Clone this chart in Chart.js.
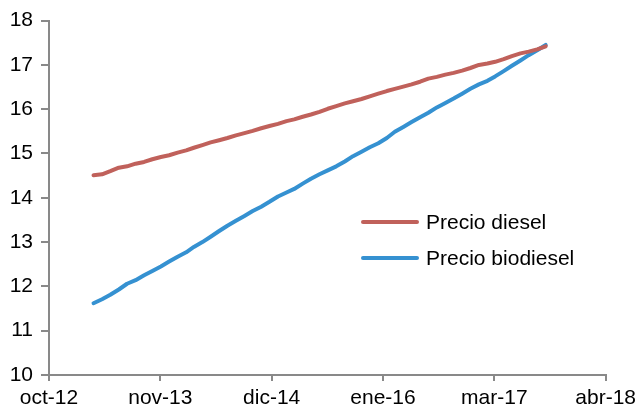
<!DOCTYPE html>
<html>
<head>
<meta charset="utf-8">
<script src="https://cdn.jsdelivr.net/npm/chart.js@4"></script>
<style>
  body { margin: 0; background: #fff; }
  #wrap { width: 641px; height: 405px; }
</style>
</head>
<body>
<div id="wrap"><canvas id="priceChart" width="641" height="405"></canvas></div>
<script>
// monthly observations
const months = [
  '2013-03','2013-04','2013-05','2013-06','2013-07','2013-08','2013-09','2013-10','2013-11','2013-12',
  '2014-01','2014-02','2014-03','2014-04','2014-05','2014-06','2014-07','2014-08','2014-09','2014-10','2014-11','2014-12',
  '2015-01','2015-02','2015-03','2015-04','2015-05','2015-06','2015-07','2015-08','2015-09','2015-10','2015-11','2015-12',
  '2016-01','2016-02','2016-03','2016-04','2016-05','2016-06','2016-07','2016-08','2016-09','2016-10','2016-11','2016-12',
  '2017-01','2017-02','2017-03','2017-04','2017-05','2017-06','2017-07','2017-08','2017-09'
];
const dieselPrice = [
  14.51, 14.53, 14.60, 14.68, 14.71, 14.77, 14.81, 14.87, 14.92, 14.96,
  15.02, 15.07, 15.13, 15.19, 15.25, 15.30, 15.35, 15.41, 15.46, 15.51, 15.57, 15.62,
  15.67, 15.73, 15.77, 15.83, 15.88, 15.94, 16.01, 16.07, 16.13, 16.18, 16.23, 16.29,
  16.35, 16.41, 16.46, 16.51, 16.56, 16.62, 16.69, 16.73, 16.78, 16.82, 16.87, 16.93,
  17.00, 17.03, 17.07, 17.13, 17.20, 17.26, 17.30, 17.35, 17.42
];
const biodieselPrice = [
  11.62, 11.71, 11.81, 11.93, 12.06, 12.14, 12.25, 12.35, 12.45, 12.56,
  12.67, 12.77, 12.89, 13.00, 13.12, 13.25, 13.37, 13.48, 13.59, 13.70, 13.80, 13.91,
  14.03, 14.12, 14.20, 14.32, 14.43, 14.53, 14.62, 14.71, 14.82, 14.94, 15.04, 15.14,
  15.23, 15.35, 15.49, 15.60, 15.71, 15.82, 15.92, 16.04, 16.14, 16.24, 16.35, 16.46,
  16.56, 16.64, 16.74, 16.86, 16.98, 17.10, 17.22, 17.33, 17.45
];
const tickLabels = ['oct-12', 'nov-13', 'dic-14', 'ene-16', 'mar-17', 'abr-18'];
const tickDays = [0, 405, 810, 1215, 1620, 2025]; // days since 1 oct 2012

const origin = Date.UTC(2012, 9, 1);
const toDays = (m) => {
  const [y, mo] = m.split('-').map(Number);
  return (Date.UTC(y, mo - 1, 12) - origin) / 86400000;
};
const toPoints = (vals) => vals.map((v, i) => ({ x: toDays(months[i]), y: v }));

const axisGrey = '#898989';
const font = { family: '"Liberation Sans", Arial, sans-serif', size: 21 };

// legend drawn inside the plot, like the original
const insideLegend = {
  id: 'insideLegend',
  afterDatasetsDraw(chart) {
    const ctx = chart.ctx;
    const x0 = 363, x1 = 417, rows = [222, 258];
    ctx.save();
    chart.data.datasets.forEach((ds, i) => {
      const y = rows[i];
      ctx.strokeStyle = ds.borderColor;
      ctx.lineWidth = 4;
      ctx.lineCap = 'round';
      ctx.beginPath();
      ctx.moveTo(x0, y);
      ctx.lineTo(x1, y);
      ctx.stroke();
      ctx.fillStyle = '#000';
      ctx.font = `${font.size}px ${font.family}`;
      ctx.textBaseline = 'middle';
      ctx.fillText(ds.label, 426, y + 1);
    });
    ctx.restore();
  }
};

const ctx = document.getElementById('priceChart').getContext('2d');
new Chart(ctx, {
  type: 'line',
  data: {
    datasets: [
      {
        label: 'Precio diesel',
        data: toPoints(dieselPrice),
        borderColor: '#C0615B',
        borderWidth: 4,
        borderCapStyle: 'round',
        borderJoinStyle: 'round',
        pointRadius: 0,
        tension: 0,
      },
      {
        label: 'Precio biodiesel',
        data: toPoints(biodieselPrice),
        borderColor: '#3591D1',
        borderWidth: 4,
        borderCapStyle: 'round',
        borderJoinStyle: 'round',
        pointRadius: 0,
        tension: 0,
      },
    ],
  },
  options: {
    responsive: false,
    animation: false,
    layout: { padding: { top: 20, right: 31, bottom: 0, left: 0 } },
    plugins: { legend: { display: false }, tooltip: { enabled: false } },
    scales: {
      x: {
        type: 'linear',
        min: 0,
        max: 2025,
        afterBuildTicks: (scale) => {
          scale.ticks = tickDays.map((v) => ({ value: v }));
        },
        afterFit: (scale) => { scale.height = 30; },
        ticks: {
          color: '#000',
          font: font,
          padding: 5,
          maxRotation: 0,
          autoSkip: false,
          callback: (v) => tickLabels[tickDays.indexOf(v)],
        },
        grid: { drawOnChartArea: false, color: axisGrey, lineWidth: 2, tickLength: 6 },
        border: { color: axisGrey, width: 2 },
      },
      y: {
        min: 10,
        max: 18,
        afterFit: (scale) => { scale.width = 49; },
        ticks: { stepSize: 1, color: '#000', font: font, padding: 8 },
        grid: { drawOnChartArea: false, color: axisGrey, lineWidth: 2, tickLength: 8 },
        border: { color: axisGrey, width: 2 },
      },
    },
  },
  plugins: [insideLegend],
});
</script>
</body>
</html>
